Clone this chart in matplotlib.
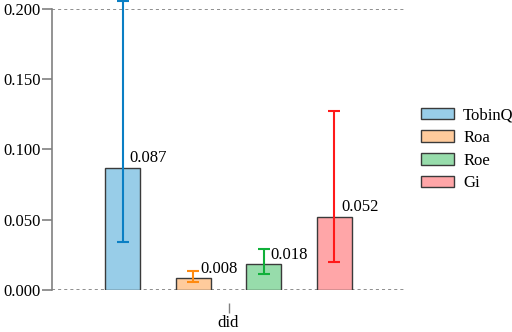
import numpy as np
import matplotlib.pyplot as plt

plt.rcParams['font.family'] = 'serif'
plt.rcParams['font.serif'] = ['Liberation Serif', 'DejaVu Serif']

names = ['TobinQ', 'Roa', 'Roe', 'Gi']
values = [0.087, 0.008, 0.018, 0.052]
err_low = [0.034, 0.0055, 0.011, 0.020]
err_high = [0.206, 0.0135, 0.029, 0.1275]
fills = ['#98cde8', '#ffcb9c', '#97dcab', '#ffa6a8']
err_colors = ['#0a7fc4', '#ff8a10', '#10b03a', '#ff1a1a']

fig, ax = plt.subplots(figsize=(5.12, 3.32), dpi=100)
fig.subplots_adjust(left=0.1016, right=0.791, top=0.9714, bottom=0.128)

pos = np.arange(len(names)) - 1.5
for i in range(len(names)):
    ax.bar(pos[i], values[i], width=0.5, color=fills[i], edgecolor='#3a3a3a',
           linewidth=1.0, label=names[i], zorder=2)
    lo = values[i] - err_low[i]
    hi = err_high[i] - values[i]
    ax.errorbar(pos[i], values[i], yerr=[[lo], [hi]], fmt='none',
                ecolor=err_colors[i], elinewidth=1.5, capsize=4, capthick=1.5,
                clip_on=False, zorder=3)
    ax.text(pos[i] + 0.1, values[i] + 0.001, '%.3f' % values[i],
            ha='left', va='bottom', fontsize=12, zorder=4)

for yv in [0.0, 0.2]:
    ax.axhline(yv, color='#707070', linestyle=(0, (2, 2)), linewidth=1.1, zorder=1)

ax.set_xlim(-2.5, 2.5)
ax.set_ylim(0, 0.2)
ax.set_yticks([0.0, 0.05, 0.1, 0.15, 0.2])
ax.set_yticklabels(['0.000', '0.050', '0.100', '0.150', '0.200'])
ax.set_xticks([0])
ax.set_xticklabels(['did'])

for s in ['top', 'right']:
    ax.spines[s].set_visible(False)
ax.spines['bottom'].set_position(('outward', 9.5))
ax.spines['bottom'].set_visible(False)
ax.spines['left'].set_color('#808080')
ax.spines['left'].set_linewidth(1.2)
ax.tick_params(axis='y', length=7, width=1.2, color='#808080', labelsize=12, pad=1)
ax.tick_params(axis='x', length=7, width=1.0, color='#808080', labelsize=12, pad=2)

ax.legend(loc='center left', bbox_to_anchor=(1.011, 0.50), frameon=False,
          fontsize=12, handlelength=2.0, handleheight=0.7, labelspacing=0.4,
          handletextpad=0.55, borderaxespad=0.3)

fig.savefig('out.png')
